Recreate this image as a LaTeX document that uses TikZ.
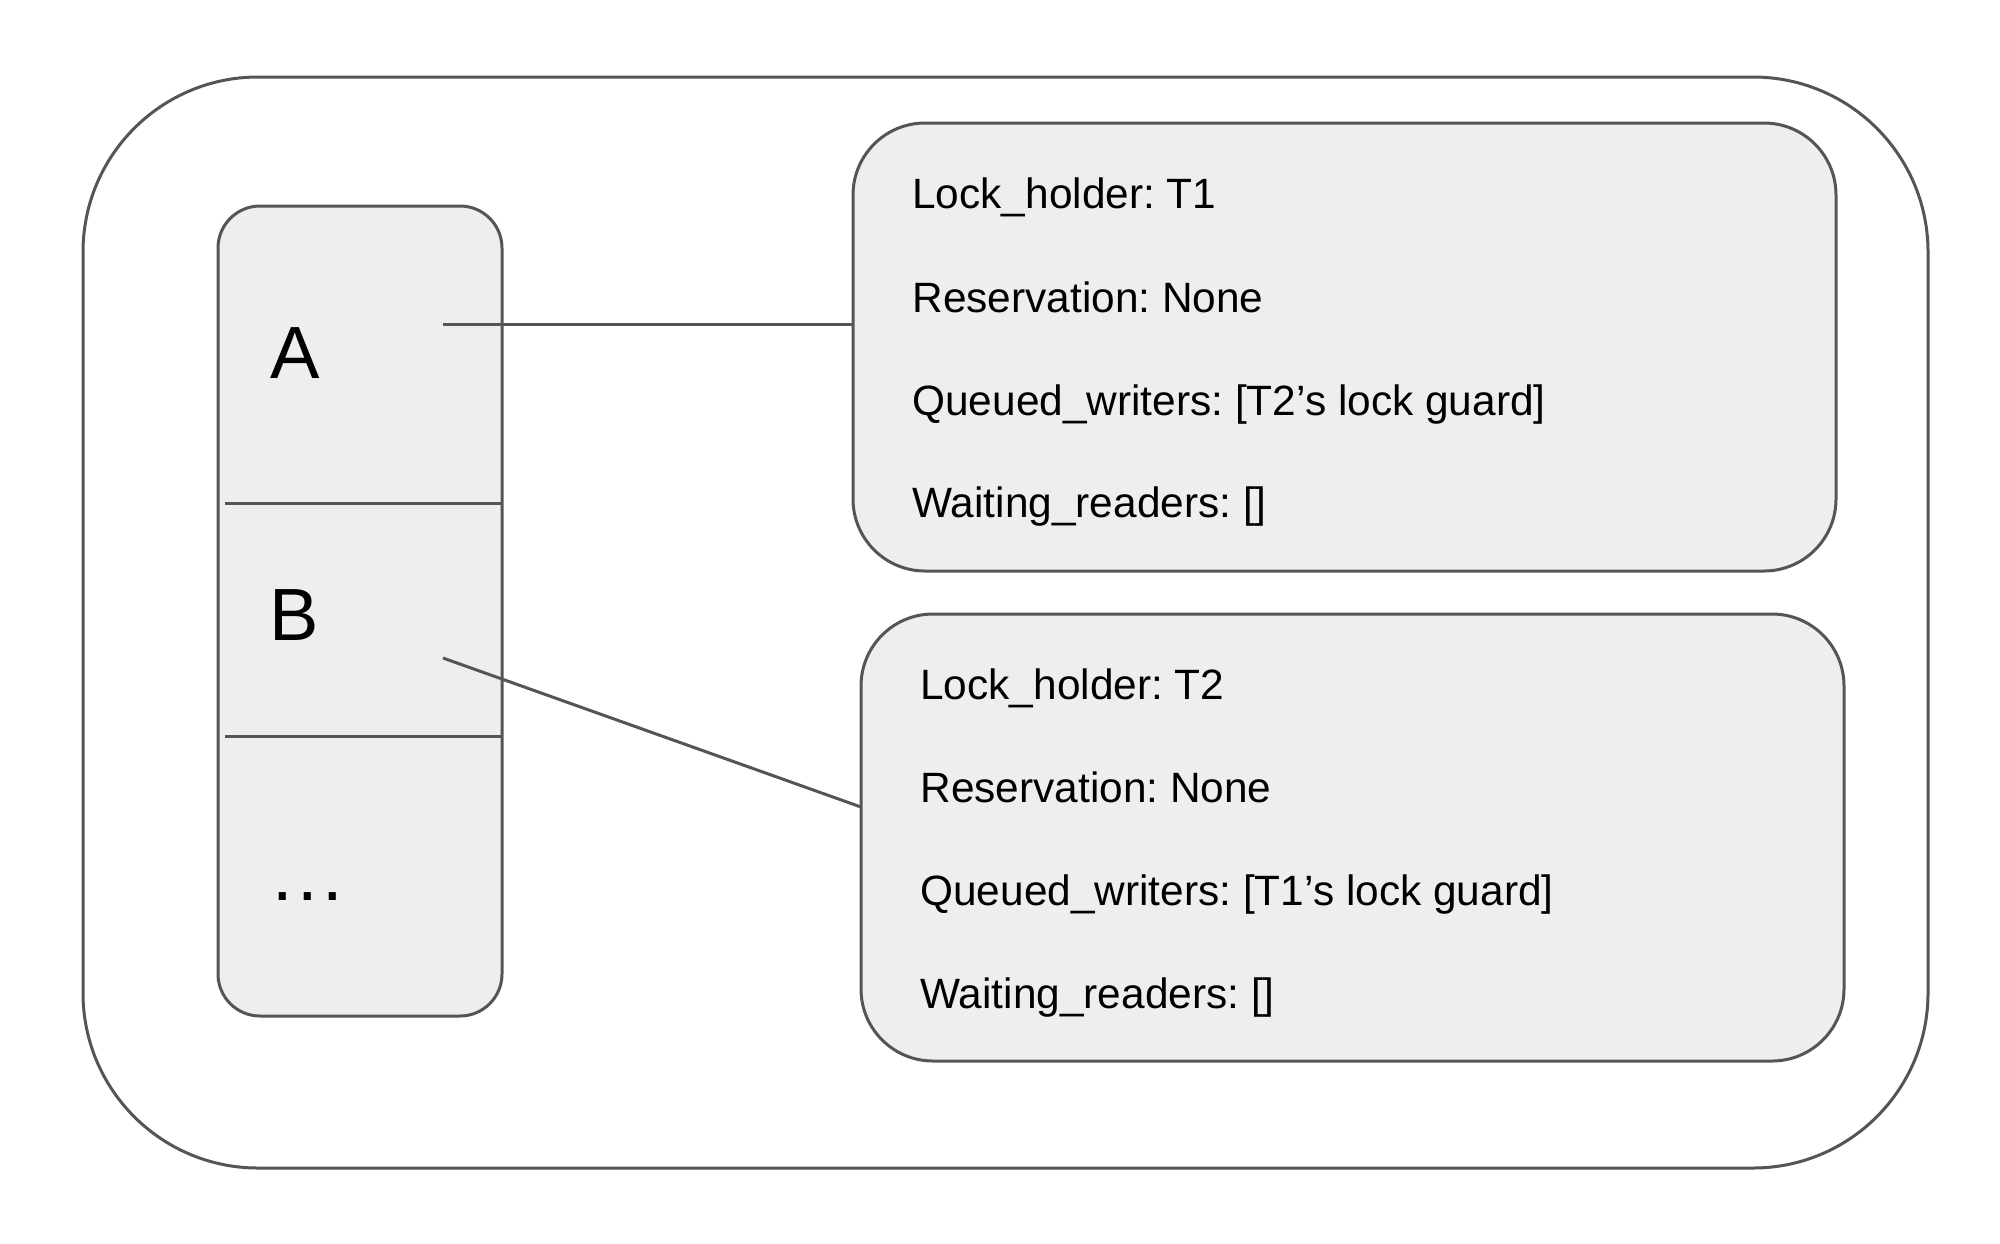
\documentclass[tikz,border=0pt]{standalone}
\usepackage{fontspec}
\setmainfont{Liberation Sans}
\definecolor{edge}{HTML}{555555}
\definecolor{boxfill}{HTML}{EEEEEE}
\frenchspacing
\begin{document}
\begin{tikzpicture}[x=0.5pt,y=-0.5pt,
  frame/.style={draw=edge, line width=1.5pt, inner sep=0pt, outer sep=0pt},
  panel/.style={frame, fill=boxfill},
  link/.style={draw=edge, line width=1.5pt},
  field/.style={anchor=base west, inner sep=0pt, font=\fontsize{21.2pt}{24pt}\selectfont},
  keyname/.style={anchor=base west, inner sep=0pt, font=\fontsize{37pt}{44pt}\selectfont}]
\useasboundingbox (0,0) rectangle (2000,1243);
% outer container
\node[frame, rounded corners=87.5pt, minimum width=922.5pt, minimum height=545.5pt] (outer) at (1005.5,622.5) {};
% left column
\node[panel, rounded corners=21pt, minimum width=142pt, minimum height=405pt] (col) at (360,611) {};
\coordinate (d1l) at (225,503); \coordinate (d1r) at (502,503);
\coordinate (d2l) at (225,736); \coordinate (d2r) at (502,736);
\draw[link] (d1l) -- (d1r);
\draw[link] (d2l) -- (d2r);
\node[keyname] (ka) at (270,378) {A};
\node[keyname] (kb) at (269,640) {B};
\node[keyname] (kc) at (272,900) {.\kern2.2pt.\kern2.2pt.};
% top record
\node[panel, rounded corners=36pt, minimum width=491.5pt, minimum height=224pt] (top) at (1344.5,347) {};
\node[field] (t1) at (912,208) {Lock\_holder: T1};
\node[field] (t2) at (912,312) {Reservation: None};
\node[field] (t3) at (912,415) {Queued\_writers: [T2’s lock guard]};
\node[field] (t4) at (912,517) {Waiting\_readers: []};
% bottom record
\node[panel, rounded corners=36pt, minimum width=491.5pt, minimum height=223.5pt] (bot) at (1352.5,837.5) {};
\node[field] (b1) at (920,699) {Lock\_holder: T2};
\node[field] (b2) at (920,802) {Reservation: None};
\node[field] (b3) at (920,905) {Queued\_writers: [T1’s lock guard]};
\node[field] (b4) at (920,1008) {Waiting\_readers: []};
% connectors
\coordinate (as) at (443,324);
\coordinate (bs) at (443,658);
\coordinate (be) at (861,807);
\draw[link] (as) -- (as -| top.west);
\draw[link] (bs) -- (be);
\end{tikzpicture}
\end{document}
